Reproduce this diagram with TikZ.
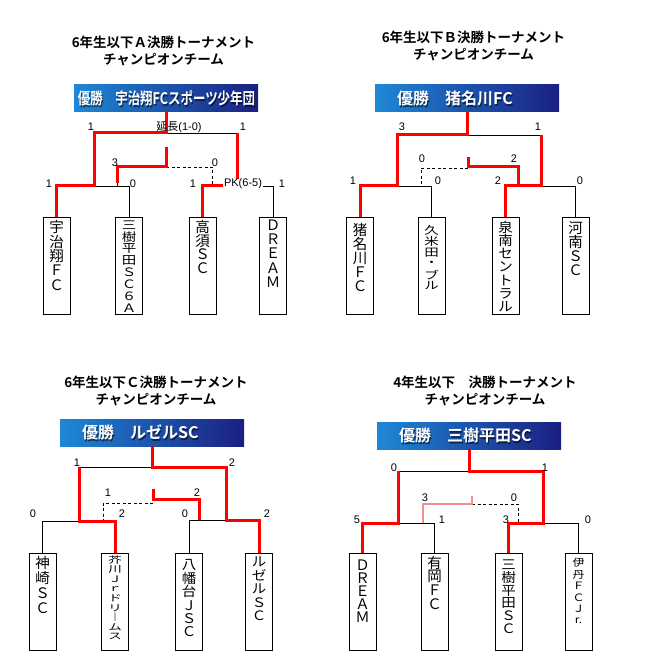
\documentclass[tikz,border=0pt]{standalone}
\usepackage{fontspec}
\setmainfont{Liberation Sans}
\newfontfamily\cjk{Noto Sans CJK JP}[BoldFont={Noto Sans CJK JP Bold}]
\usetikzlibrary{calc}
\definecolor{banleft}{HTML}{1E88D6}
\definecolor{banright}{HTML}{1B1F82}
\definecolor{winred}{HTML}{FF0000}
\definecolor{thirdred}{HTML}{F29090}

\tikzset{
  win/.style={winred,line width=3pt},
  link/.style={line width=0.8pt},
  lostlink/.style={line width=0.8pt,dash pattern=on 3pt off 2.5pt},
  thirdwin/.style={thirdred,line width=2.5pt},
  teambox/.style={draw,line width=0.9pt,minimum width=27pt,minimum height=97pt,inner sep=0pt,anchor=north},
  namechar/.style={font=\cjk\fontsize{14.5}{14.5}\selectfont,inner sep=0pt},
  score/.style={font=\fontsize{11}{11}\selectfont,inner sep=0pt},
  headline/.style={font=\cjk\bfseries\fontsize{13.5}{17}\selectfont,align=center,inner sep=0pt},
  banner/.style={left color=banleft,right color=banright,minimum width=184pt,minimum height=27pt,inner sep=0pt},
  bantext/.style={font=\cjk\bfseries\fontsize{16}{16}\selectfont,text=white,inner sep=0pt},
  banshade/.style={bantext,text=black,opacity=0.55},
}

% vertical team name: [style]{id}{x}{first y}{step}{yscale}{chars}
\newcommand\teamname[7][]{%
  \foreach \c [count=\i] in {#7}
    \node[namechar,#1] (#2-\i) at (#3,{#4+(\i-1)*#5}) {\scalebox{1}[#6]{\c}};}

\begin{document}
\begin{tikzpicture}[x=1pt,y=-1pt]
\fill[white] (0,0) rectangle (650,668);
\useasboundingbox (0,0) rectangle (650,668);

% titles
\node[headline] (titA) at (163.5,50.5) {6年生以下Ａ決勝トーナメント\\チャンピオンチーム};
\node[headline] (titB) at (473.5,46) {6年生以下Ｂ決勝トーナメント\\チャンピオンチーム};
\node[headline] (titC) at (156,391) {6年生以下Ｃ決勝トーナメント\\チャンピオンチーム};
\node[headline] (titD) at (485,391) {4年生以下　決勝トーナメント\\チャンピオンチーム};

% banners
\node[banner] (banA) at (166,98.5) {};
\node[banner] (banB) at (467,98.5) {};
\node[banner] (banC) at (152,432.5) {};
\node[banner] (banD) at (469,435.5) {};

% team boxes
\node[teambox] (a1) at (56.5,217) {};
\node[teambox] (a2) at (129,217) {};
\node[teambox] (a3) at (202.5,217) {};
\node[teambox] (a4) at (273,217) {};
\node[teambox] (b1) at (360,217) {};
\node[teambox] (b2) at (431.5,217) {};
\node[teambox] (b3) at (505.5,217) {};
\node[teambox] (b4) at (575.5,217) {};
\node[teambox] (c1) at (42.5,552.5) {};
\node[teambox] (c2) at (115,552.5) {};
\node[teambox] (c3) at (189,552.5) {};
\node[teambox] (c4) at (259,552.5) {};
\node[teambox] (d1) at (362.5,553) {};
\node[teambox] (d2) at (434.5,553) {};
\node[teambox] (d3) at (508.5,553) {};
\node[teambox] (d4) at (578.5,553) {};

\teamname{na1}{56.5}{227}{14.5}{1}{宇,治,翔,Ｆ,Ｃ}
\teamname{na2}{129}{225}{11.9}{0.8}{三,樹,平,田,Ｓ,Ｃ,６,Ａ}
\teamname{na3}{202.5}{227}{13.7}{1}{高,須,Ｓ,Ｃ}
\teamname{na4}{273}{225}{14.3}{1}{Ｄ,Ｒ,Ｅ,Ａ,Ｍ}
\teamname{nb1}{360}{230}{14}{1}{猪,名,川,Ｆ,Ｃ}
\teamname{nb2}{431.5}{230}{11.2}{0.75}{久,米,田,・,ブ,ル}
\teamname{nb3}{505.5}{227}{13.3}{0.92}{泉,南,セ,ン,ト,ラ,ル}
\teamname{nb4}{575.5}{228}{14}{1}{河,南,Ｓ,Ｃ}
\teamname{nc1}{42.5}{563}{15}{1}{神,崎,Ｓ,Ｃ}
\teamname[font=\cjk\fontsize{13.5}{13.5}\selectfont]{nc2}{115}{560}{9.6}{0.66}{芥,川,Ｊ,ｒ,ド,リ,｜,ム,ス}
\teamname{nc3}{189}{565}{13.4}{0.92}{八,幡,台,Ｊ,Ｓ,Ｃ}
\teamname{nc4}{259}{562}{13.5}{0.9}{ル,ゼ,ル,Ｓ,Ｃ}
\teamname{nd1}{362.5}{565}{13}{1}{Ｄ,Ｒ,Ｅ,Ａ,Ｍ}
\teamname{nd2}{434.5}{563}{13.7}{1}{有,岡,Ｆ,Ｃ}
\teamname{nd3}{508.5}{565}{12.8}{0.9}{三,樹,平,田,Ｓ,Ｃ}
\teamname[font=\cjk\fontsize{12}{12}\selectfont]{nd4}{578.5}{563}{11.5}{0.85}{伊,丹,Ｆ,Ｃ,Ｊ,r.}

% bracket A
\coordinate (aFL) at (94,133); \coordinate (aFR) at (237,133);
\coordinate (aL) at (94,186); \coordinate (aR) at (237,186);
\coordinate (a3T) at (166,147); \coordinate (a3L) at (117,167); \coordinate (a3R) at (212,167);
\draw[link] (aFL) -- (aFR);
\draw[link] (aL) -| (a2.north);
\draw[link] (aR) -| (a4.north);
\draw[link] (a3L) -- (a3L |- aL);
\draw[lostlink] (a3T |- a3R) -| (a3R |- aR);
\draw[win] (banA.south) |- (aFL) -- (aL) -| (a1.north);
\draw[win] (aFR) -- (aR) -| (a3.north);
\draw[win] (a3T) |- (a3L) -- ++(0,16);

% bracket B
\coordinate (bFL) at (397,135); \coordinate (bFR) at (541,135);
\coordinate (bL) at (397,186); \coordinate (bR) at (541,186);
\coordinate (b3T) at (468,157); \coordinate (b3L) at (421,168); \coordinate (b3R) at (518,167);
\draw[link] (bFL) -- (bFR);
\draw[link] (bL) -| (b2.north);
\draw[link] (bR) -| (b4.north);
\draw[lostlink] (b3T |- b3L) -| (b3L |- bL);
\draw[win] (banB.south) |- (bFL) -- (bL) -| (b1.north);
\draw[win] (bFR) -- (bR) -| (b3.north);
\draw[win] (b3T) |- (b3R) -- (b3R |- bR);

% bracket C
\coordinate (cFL) at (79,467); \coordinate (cFR) at (226,467);
\coordinate (cL) at (79,521); \coordinate (cR) at (226,520);
\coordinate (c3T) at (153,489); \coordinate (c3L) at (103,503); \coordinate (c3R) at (199,499);
\draw[link] (cFL) -- (cFR);
\draw[link] (cL) -| (c1.north);
\draw[link] (cR) -| (c3.north);
\draw[lostlink] (c3T |- c3L) -| (c3L |- cL);
\draw[win] (banC.south) |- (cFR) -- (cR) -| (c4.north);
\draw[win] (cFL) -- (cL) -| (c2.north);
\draw[win] (c3T) |- (c3R) -- (c3R |- cR);

% bracket D
\coordinate (dFL) at (398,471); \coordinate (dFR) at (543,471);
\coordinate (dL) at (398,523); \coordinate (dR) at (543,523);
\coordinate (d3T) at (472,496); \coordinate (d3L) at (423,504); \coordinate (d3R) at (518,504);
\draw[link] (dFL) -- (dFR);
\draw[link] (dL) -| (d2.north);
\draw[link] (dR) -| (d4.north);
\draw[lostlink] (d3T |- d3R) -| (d3R |- dR);
\draw[thirdwin] (d3T) |- (d3L) -- (d3L |- dL);
\draw[win] (banD.south) |- (dFR) -- (dR) -| (d3.north);
\draw[win] (dFL) -- (dL) -| (d1.north);

% champion texts
\node[banshade] (banAs) at (167.5,100) {\scalebox{0.78}[1]{優勝　宇治翔FCスポーツ少年団}};
\node[bantext] (banAt) at (166.5,98.5) {\scalebox{0.78}[1]{優勝　宇治翔FCスポーツ少年団}};
\node[banshade,anchor=west] (banBs) at (398,100) {優勝　猪名川FC};
\node[bantext,anchor=west] (banBt) at (397,98.5) {優勝　猪名川FC};
\node[banshade,anchor=west] (banCs) at (83,434) {優勝　ルゼルSC};
\node[bantext,anchor=west] (banCt) at (82,432.5) {優勝　ルゼルSC};
\node[banshade,anchor=west] (banDs) at (400,437) {優勝　三樹平田SC};
\node[bantext,anchor=west] (banDt) at (399,435.5) {優勝　三樹平田SC};

% scores
\foreach \x/\y/\t [count=\k] in {91/127/1,243/127/1,115/163/3,215/163/0,49/184/1,133/184/0,193/184/1,282/184/1,
  402/127/3,538/127/1,422/159/0,514/159/2,353/181/1,438/181/0,498/181/2,580/181/0,
  77/463/1,232/463/2,108/493/1,197/493/2,33/514/0,122/514/2,185/514/0,267/514/2,
  394/468/0,545/468/1,425/498/3,514/498/0,357/520/5,442/520/1,506/520/3,588/520/0}
  \node[score] (s\k) at (\x,\y) {\t};
\node[score] (extA) at (179,127) {{\cjk 延長}(1-0)};
\node[score,fill=white,inner xsep=1pt] (pkA) at (243,184) {PK(6-5)};
\end{tikzpicture}
\end{document}
